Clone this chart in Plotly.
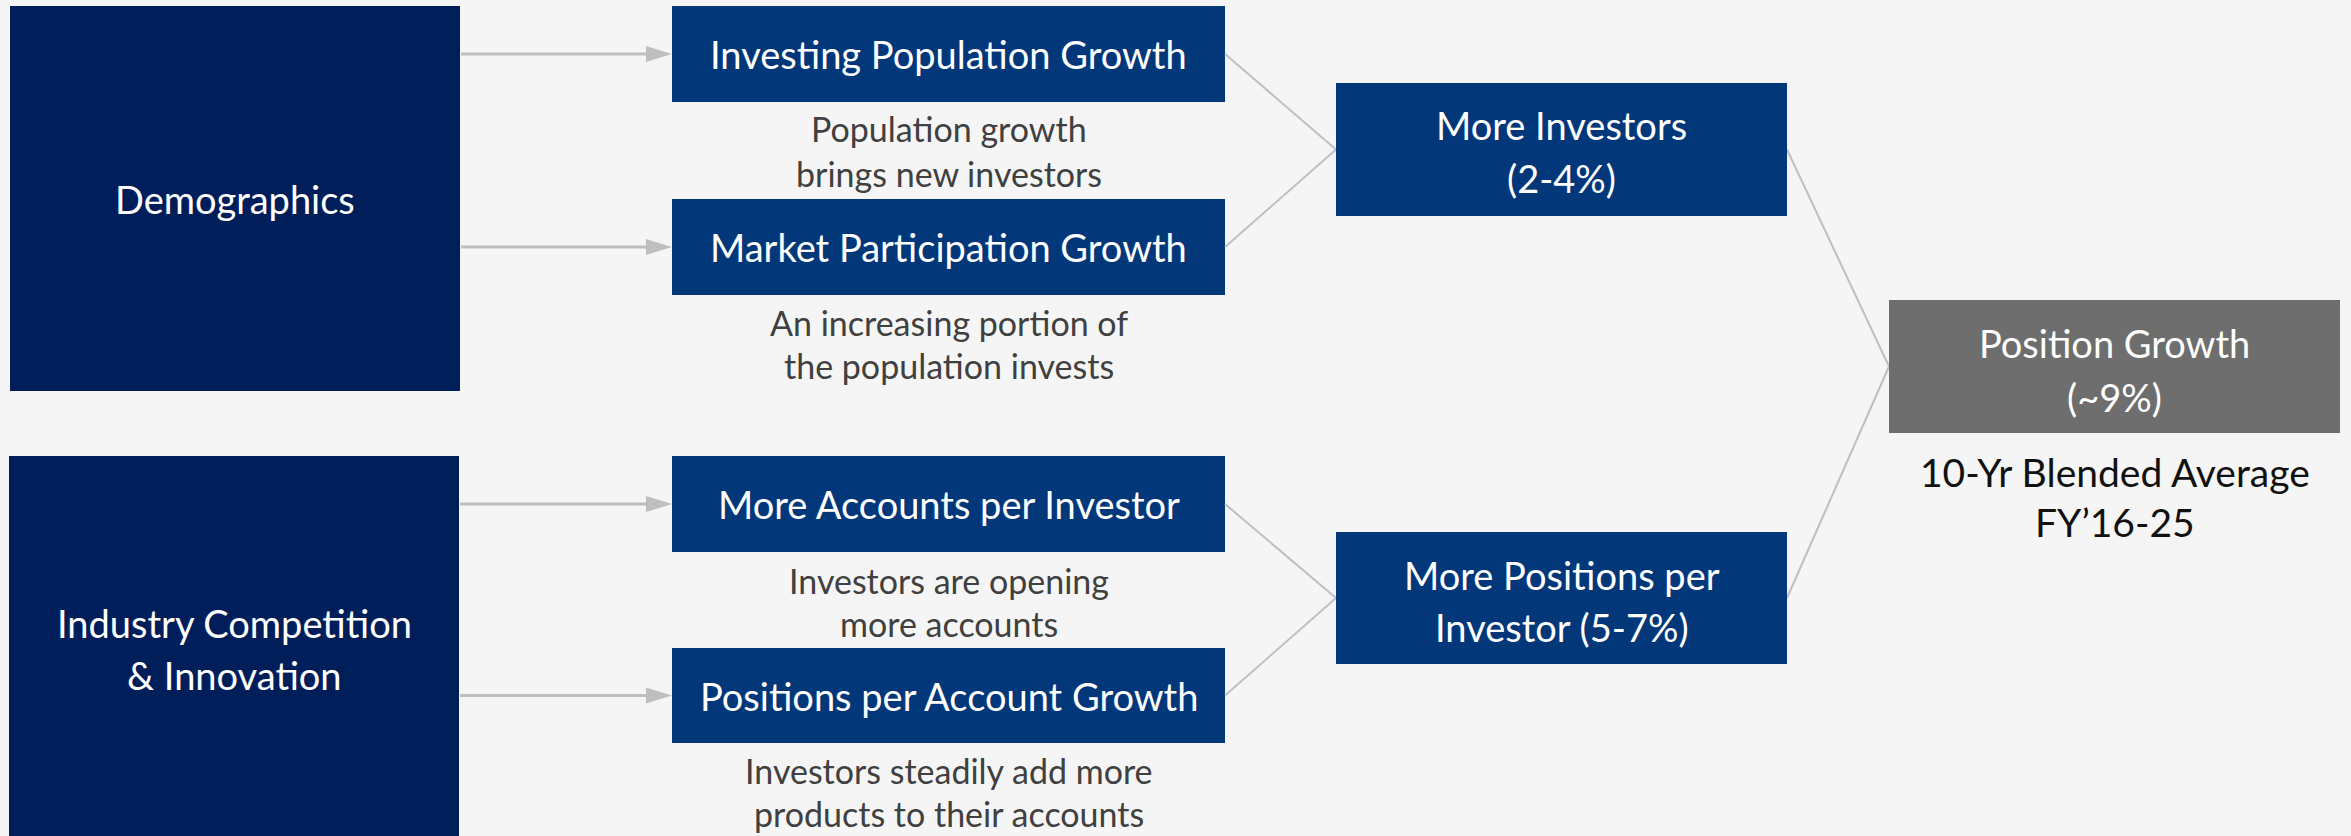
import plotly.graph_objects as go

# ---- content ----
source_labels = [["Demographics"], ["Industry Competition", "& Innovation"]]
driver_labels = ["Investing Population Growth", "Market Participation Growth",
                 "More Accounts per Investor", "Positions per Account Growth"]
driver_notes = [["Population growth", "brings new investors"],
                ["An increasing portion of", "the population invests"],
                ["Investors are opening", "more accounts"],
                ["Investors steadily add more", "products to their accounts"]]
outcome_labels = [["More Investors", "(2-4%)"], ["More Positions per", "Investor (5-7%)"]]
result_label = ["Position Growth", "(~9%)"]
result_note = ["10-Yr Blended Average", "FY\u201916-25"]

# ---- layout (pixel geometry) ----
W, H = 2351, 836
BG = "#F5F5F5"
NAVY = "#001E5A"
BLUE = "#02377A"
GRAY = "#6E6E6E"
LINE = "#BFBFBF"
NOTE = "#404040"
FONT = "Lato, 'Open Sans', sans-serif"
BOX_SIZE = 38
NOTE_SIZE = 34
RES_NOTE_SIZE = 39

src_boxes = [(10, 460, 6, 391), (9, 459, 456, 842)]
src_text_y = [[199], [623, 675]]
drv_x = (672, 1225)
drv_boxes_y = [(6, 102), (199, 295), (456, 552), (648, 743)]
drv_src = [0, 0, 1, 1]
note_y = [[128, 173], [322, 365], [580, 623], [770, 813]]
out_boxes = [(1336, 1787, 83, 216), (1336, 1787, 532, 664)]
out_text_y = [[125, 178], [575, 627]]
res_box = (1889, 2340, 300, 433)
res_text_y = [343, 397]
res_note_y = [472, 522]

shapes = []
ann = []


def rect(x0, x1, y0, y1, color):
    shapes.append(dict(type="rect", xref="x", yref="y", x0=x0, x1=x1, y0=y0, y1=y1,
                       fillcolor=color, line=dict(width=0), layer="above"))


def line(x0, y0, x1, y1, w=2):
    shapes.append(dict(type="line", xref="x", yref="y", x0=x0, y0=y0, x1=x1, y1=y1,
                       line=dict(color=LINE, width=w), layer="above"))


def text(x, y, s, size, color):
    ann.append(dict(x=x, y=y, xref="x", yref="y", text=s, showarrow=False,
                    xanchor="center", yanchor="middle",
                    font=dict(family=FONT, size=size, color=color)))


# source boxes
for (x0, x1, y0, y1), lab, ys in zip(src_boxes, source_labels, src_text_y):
    rect(x0, x1, y0, y1, NAVY)
    for s, y in zip(lab, ys):
        text((x0 + x1) / 2, y, s, BOX_SIZE, "white")

# driver boxes, arrows, notes
for i, ((y0, y1), lab, notes, ny) in enumerate(zip(drv_boxes_y, driver_labels, driver_notes, note_y)):
    x0, x1 = drv_x
    rect(x0, x1, y0, y1, BLUE)
    yc = (y0 + y1) / 2
    text((x0 + x1) / 2, yc, lab, BOX_SIZE, "white")
    sx = src_boxes[drv_src[i]][1] + 1
    line(sx, yc, x0 - 24, yc, 3)
    shapes.append(dict(type="path", xref="x", yref="y",
                       path=f"M {x0-26} {yc-8} L {x0} {yc} L {x0-26} {yc+8} Z",
                       fillcolor=LINE, line=dict(width=0), layer="above"))
    for s, y in zip(notes, ny):
        text((x0 + x1) / 2, y, s, NOTE_SIZE, NOTE)

# connectors drivers -> outcomes
for k, (ox0, ox1, oy0, oy1) in enumerate(out_boxes):
    oc = (oy0 + oy1) / 2
    for j in (2 * k, 2 * k + 1):
        y0, y1 = drv_boxes_y[j]
        line(drv_x[1], (y0 + y1) / 2, ox0, oc)

# connectors outcomes -> result
rx0, rx1, ry0, ry1 = res_box
rc = (ry0 + ry1) / 2
for (ox0, ox1, oy0, oy1) in out_boxes:
    line(ox1, (oy0 + oy1) / 2, rx0, rc)

# outcome boxes
for (x0, x1, y0, y1), lab, ys in zip(out_boxes, outcome_labels, out_text_y):
    rect(x0, x1, y0, y1, BLUE)
    for s, y in zip(lab, ys):
        text((x0 + x1) / 2, y, s, BOX_SIZE, "white")

# result box
rect(rx0, rx1, ry0, ry1, GRAY)
for s, y in zip(result_label, res_text_y):
    text((rx0 + rx1) / 2, y, s, BOX_SIZE, "white")
for s, y in zip(result_note, res_note_y):
    text((rx0 + rx1) / 2, y, s, RES_NOTE_SIZE, "#111111")

fig = go.Figure()
fig.update_layout(
    width=W, height=H, margin=dict(l=0, r=0, t=0, b=0),
    paper_bgcolor=BG, plot_bgcolor=BG, showlegend=False,
    xaxis=dict(range=[0, W], visible=False, fixedrange=True),
    yaxis=dict(range=[H, 0], visible=False, fixedrange=True),
    shapes=shapes, annotations=ann,
)
fig.write_html("out.html", config={"displayModeBar": False},
               post_script="document.body.style.margin='0';")
